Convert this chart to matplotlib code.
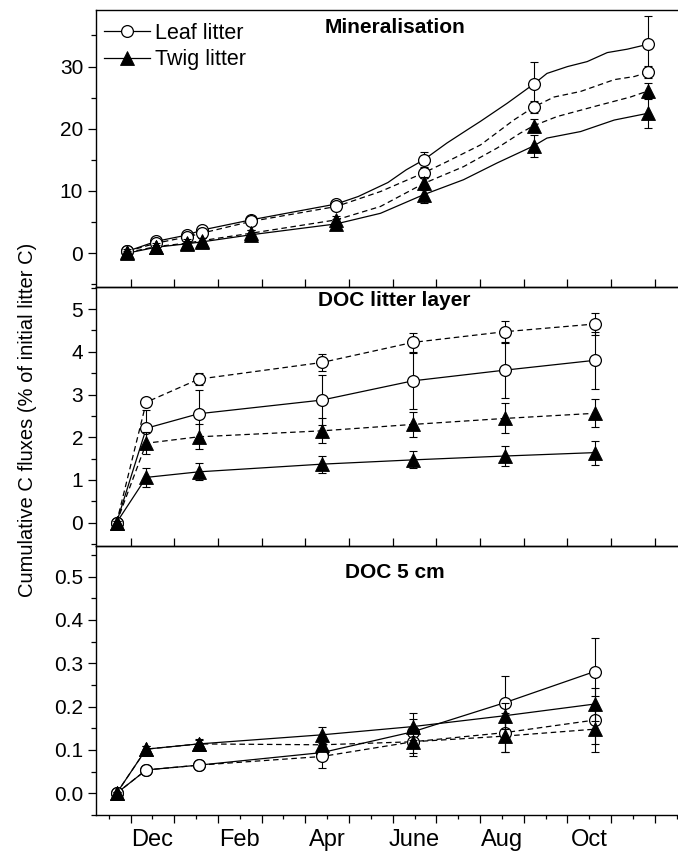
import matplotlib
matplotlib.use("Agg")
import matplotlib.pyplot as plt
from matplotlib.lines import Line2D
from matplotlib.ticker import MultipleLocator, FixedLocator, NullLocator

plt.rcParams['font.family'] = ['Liberation Sans', 'DejaVu Sans']
plt.rcParams['lines.scale_dashes'] = False

# ---------------- data (x in months, 0 = 1 Dec) ----------------
month_labels = ['Dec', 'Feb', 'Apr', 'June', 'Aug', 'Oct']
month_label_pos = [0.5, 2.5, 4.5, 6.5, 8.5, 10.5]

# Mineralisation: sampling dates (markers)
min_x = [-0.07, 0.59, 1.29, 1.63, 2.76, 4.71, 6.71, 9.23, 11.85]
min_leaf_solid = [0.3, 1.9, 2.9, 3.7, 5.35, 7.9, 15.0, 27.2, 33.6]
min_leaf_dashed = [0.3, 1.6, 2.6, 3.2, 5.1, 7.5, 12.9, 23.5, 29.1]
min_twig_dashed = [0.1, 1.05, 1.6, 2.0, 3.2, 5.35, 11.2, 20.5, 26.1]
min_twig_solid = [0.0, 0.95, 1.5, 1.8, 2.95, 4.7, 9.4, 17.25, 22.5]
min_leaf_solid_err = [0.3, 0.4, 0.5, 0.5, 0.6, 0.6, 1.2, 3.5, 4.5]
min_leaf_dashed_err = [0.2, 0.3, 0.4, 0.4, 0.5, 0.5, 0.8, 1.0, 1.0]
min_twig_dashed_err = [0.2, 0.3, 0.4, 0.4, 0.5, 0.6, 1.0, 1.1, 1.3]
min_twig_solid_err = [0.6, 0.6, 0.7, 0.7, 0.8, 0.8, 1.4, 1.75, 2.4]

# Mineralisation: continuous traces
tr_leaf_solid_x = [-0.07, 0.59, 1.29, 1.63, 2.76, 4.71, 5.21, 5.89, 6.31, 6.71, 7.24, 7.70,
                   8.01, 8.62, 9.23, 9.53, 10.0, 10.45, 10.91, 11.37, 11.85]
tr_leaf_solid_y = [0.3, 1.9, 2.9, 3.7, 5.35, 7.9, 9.1, 11.35, 13.4, 15.0, 17.7, 19.8,
                   21.2, 24.1, 27.2, 28.9, 30.0, 30.8, 32.25, 32.8, 33.6]
tr_leaf_dashed_x = [-0.07, 0.59, 1.29, 1.63, 2.76, 4.71, 5.72, 6.71, 7.24, 8.01, 8.77,
                    9.23, 9.69, 10.3, 11.07, 11.53, 11.85]
tr_leaf_dashed_y = [0.3, 1.6, 2.6, 3.2, 5.1, 7.5, 9.9, 12.9, 14.7, 17.4, 21.4,
                    23.5, 25.1, 26.0, 27.9, 28.4, 29.1]
tr_twig_dashed_x = [-0.07, 0.59, 1.29, 1.63, 2.76, 4.71, 5.72, 6.71, 7.62, 8.39, 8.92,
                    9.23, 9.76, 10.68, 11.44, 11.85]
tr_twig_dashed_y = [0.1, 1.05, 1.6, 2.0, 3.2, 5.35, 7.5, 11.2, 13.9, 16.9, 19.3,
                    20.5, 21.96, 23.7, 25.1, 26.1]
tr_twig_solid_x = [-0.07, 0.59, 1.29, 1.63, 2.76, 4.71, 5.72, 6.71, 7.62, 8.39, 9.23,
                   9.53, 10.3, 11.07, 11.85]
tr_twig_solid_y = [0.0, 0.95, 1.5, 1.8, 2.95, 4.7, 6.4, 9.4, 11.8, 14.5, 17.25,
                   18.5, 19.55, 21.4, 22.5]

# DOC sampling dates
doc_x = [-0.32, 0.36, 1.56, 4.38, 6.46, 8.56, 10.62]

# DOC litter layer
lit_leaf_dashed = [0, 2.82, 3.36, 3.75, 4.22, 4.47, 4.65]
lit_leaf_solid = [0, 2.21, 2.55, 2.87, 3.32, 3.57, 3.80]
lit_twig_dashed = [0, 1.86, 2.01, 2.15, 2.30, 2.44, 2.56]
lit_twig_solid = [0, 1.06, 1.19, 1.37, 1.47, 1.56, 1.64]
lit_leaf_dashed_err = [0.03, 0.08, 0.14, 0.20, 0.22, 0.26, 0.25]
lit_leaf_solid_err = [0.03, 0.43, 0.56, 0.58, 0.65, 0.66, 0.66]
lit_twig_dashed_err = [0.03, 0.26, 0.29, 0.29, 0.29, 0.35, 0.33]
lit_twig_solid_err = [0.03, 0.22, 0.20, 0.20, 0.20, 0.23, 0.28]

# DOC 5 cm
soil_leaf_solid = [0, 0.054, 0.065, 0.094, 0.142, 0.209, 0.281]
soil_leaf_dashed = [0, 0.054, 0.065, 0.085, 0.119, 0.140, 0.169]
soil_twig_solid = [0, 0.102, 0.114, 0.135, 0.154, 0.179, 0.206]
soil_twig_dashed = [0, 0.102, 0.114, 0.112, 0.119, 0.132, 0.148]
soil_leaf_solid_err = [0.003, 0.006, 0.008, 0.008, 0.030, 0.062, 0.077]
soil_leaf_dashed_err = [0.003, 0.005, 0.007, 0.027, 0.034, 0.045, 0.055]
soil_twig_solid_err = [0.003, 0.008, 0.011, 0.019, 0.031, 0.030, 0.038]
soil_twig_dashed_err = [0.003, 0.008, 0.010, 0.012, 0.025, 0.037, 0.053]

# ---------------- styling ----------------
DASH = (0, (4.0, 2.6))
LW = 0.9
CIRC = dict(marker='o', markersize=8.5, markerfacecolor='white', markeredgecolor='black',
            markeredgewidth=0.9)
TRI = dict(marker='^', markersize=9.5, markerfacecolor='black', markeredgecolor='black',
           markeredgewidth=0.6)

fig = plt.figure(figsize=(6.78, 8.52), dpi=100)
H = 852.0
L = 95.7 / 678.0
W = 1.0 - L + 0.002

def axes_at(top_px, bot_px):
    return fig.add_axes([L, 1 - bot_px / H, W, (bot_px - top_px) / H])

ax1 = axes_at(10, 287.3)
ax2 = axes_at(287.3, 546.3)
ax3 = axes_at(546.3, 815)

def series(ax, x, y, err, mk, zo):
    ax.errorbar(x, y, yerr=err, fmt='none', ecolor='black', elinewidth=0.8,
                capsize=3, capthick=0.8, zorder=zo)
    ax.plot(x, y, linestyle='none', zorder=zo + 1, **mk)

def trace(ax, x, y, ls, zo):
    ax.plot(x, y, color='black', linestyle=ls, linewidth=LW, zorder=zo)

# Mineralisation
trace(ax1, tr_leaf_solid_x, tr_leaf_solid_y, '-', 2)
trace(ax1, tr_leaf_dashed_x, tr_leaf_dashed_y, DASH, 2)
trace(ax1, tr_twig_dashed_x, tr_twig_dashed_y, DASH, 2)
trace(ax1, tr_twig_solid_x, tr_twig_solid_y, '-', 2)
series(ax1, min_x, min_leaf_solid, min_leaf_solid_err, CIRC, 3)
series(ax1, min_x, min_leaf_dashed, min_leaf_dashed_err, CIRC, 3)
series(ax1, min_x, min_twig_dashed, min_twig_dashed_err, TRI, 5)
series(ax1, min_x, min_twig_solid, min_twig_solid_err, TRI, 5)

# DOC litter layer and DOC 5 cm
for ax, ys, es, styles, mks in [
    (ax2, [lit_leaf_dashed, lit_leaf_solid, lit_twig_dashed, lit_twig_solid],
     [lit_leaf_dashed_err, lit_leaf_solid_err, lit_twig_dashed_err, lit_twig_solid_err],
     [DASH, '-', DASH, '-'], [CIRC, CIRC, TRI, TRI]),
    (ax3, [soil_leaf_solid, soil_leaf_dashed, soil_twig_solid, soil_twig_dashed],
     [soil_leaf_solid_err, soil_leaf_dashed_err, soil_twig_solid_err, soil_twig_dashed_err],
     ['-', DASH, '-', DASH], [CIRC, CIRC, TRI, TRI])]:
    for y, e, ls, mk in zip(ys, es, styles, mks):
        zo = 3 if mk is CIRC else 5
        trace(ax, doc_x, y, ls, 2)
        series(ax, doc_x, y, e, mk, zo)

# axes formatting
ylims = [(-5.5, 39.1), (-0.553, 5.51), (-0.05, 0.57)]
ymin_ = [5, 0.5, 0.05]
titles = ['Mineralisation', 'DOC litter layer', 'DOC 5 cm']
title_y = [27.5, 300.5, 572]
tops = [10, 287.3, 546.3]
bots = [287.3, 546.3, 815]
for i, ax in enumerate([ax1, ax2, ax3]):
    ax.set_xlim(-0.797, 12.56)
    ax.set_ylim(*ylims[i])
    ax.yaxis.set_minor_locator(MultipleLocator(ymin_[i]))
    ax.spines['right'].set_visible(False)
    for s in ['left', 'top', 'bottom']:
        ax.spines[s].set_linewidth(1.0)
    ax.tick_params(axis='y', which='major', direction='out', length=6, width=0.9,
                   labelsize=15, pad=3)
    ax.tick_params(axis='y', which='minor', direction='out', length=3.5, width=0.9)
    ax.xaxis.set_major_locator(MultipleLocator(1))
    ax.patch.set_alpha(0)
    fy = (title_y[i] - tops[i]) / (bots[i] - tops[i])
    ax.text(0.512, 1 - fy, titles[i], transform=ax.transAxes, ha='center', va='center',
            fontsize=15, fontweight='bold')

ax1.set_yticks([0, 10, 20, 30])
ax2.set_yticks([0, 1, 2, 3, 4, 5])
ax3.set_yticks([0, 0.1, 0.2, 0.3, 0.4, 0.5])
ax1.yaxis.set_major_formatter(matplotlib.ticker.FormatStrFormatter('%d'))
ax2.yaxis.set_major_formatter(matplotlib.ticker.FormatStrFormatter('%d'))
ax3.yaxis.set_major_formatter(matplotlib.ticker.FormatStrFormatter('%.1f'))

for ax in [ax1, ax2]:
    ax.xaxis.set_minor_locator(NullLocator())
    ax.tick_params(axis='x', which='major', direction='in', length=6, width=0.9,
                   labelbottom=False, top=False)

ax3.xaxis.set_minor_locator(FixedLocator([k + 0.5 for k in range(-1, 13)]))
minor_labels = []
for k in range(-1, 13):
    p = k + 0.5
    minor_labels.append(month_labels[month_label_pos.index(p)] if p in month_label_pos else '')
ax3.xaxis.set_minor_formatter(matplotlib.ticker.FixedFormatter(minor_labels))
ax3.tick_params(axis='x', which='major', direction='out', length=6, width=0.9,
                labelbottom=False, top=False)
ax3.tick_params(axis='x', which='minor', direction='out', length=3, width=0.9,
                labelsize=17, pad=7)

# legend
handles = [Line2D([], [], color='black', linewidth=LW, **CIRC),
           Line2D([], [], color='black', linewidth=LW, **TRI)]
ax1.legend(handles, ['Leaf litter', 'Twig litter'], loc='upper left',
           bbox_to_anchor=(0.0, 0.985), frameon=False, fontsize=15.5,
           handlelength=2.1, handletextpad=0.25, labelspacing=0.25,
           borderaxespad=0.2, borderpad=0.2)

fig.text(28 / 678.0, 1 - 420 / H, 'Cumulative C fluxes (% of initial litter C)',
         rotation=90, ha='center', va='center', fontsize=14.5,
         family=['Liberation Sans Narrow', 'Liberation Sans'])

fig.savefig('out.png', dpi=100)
